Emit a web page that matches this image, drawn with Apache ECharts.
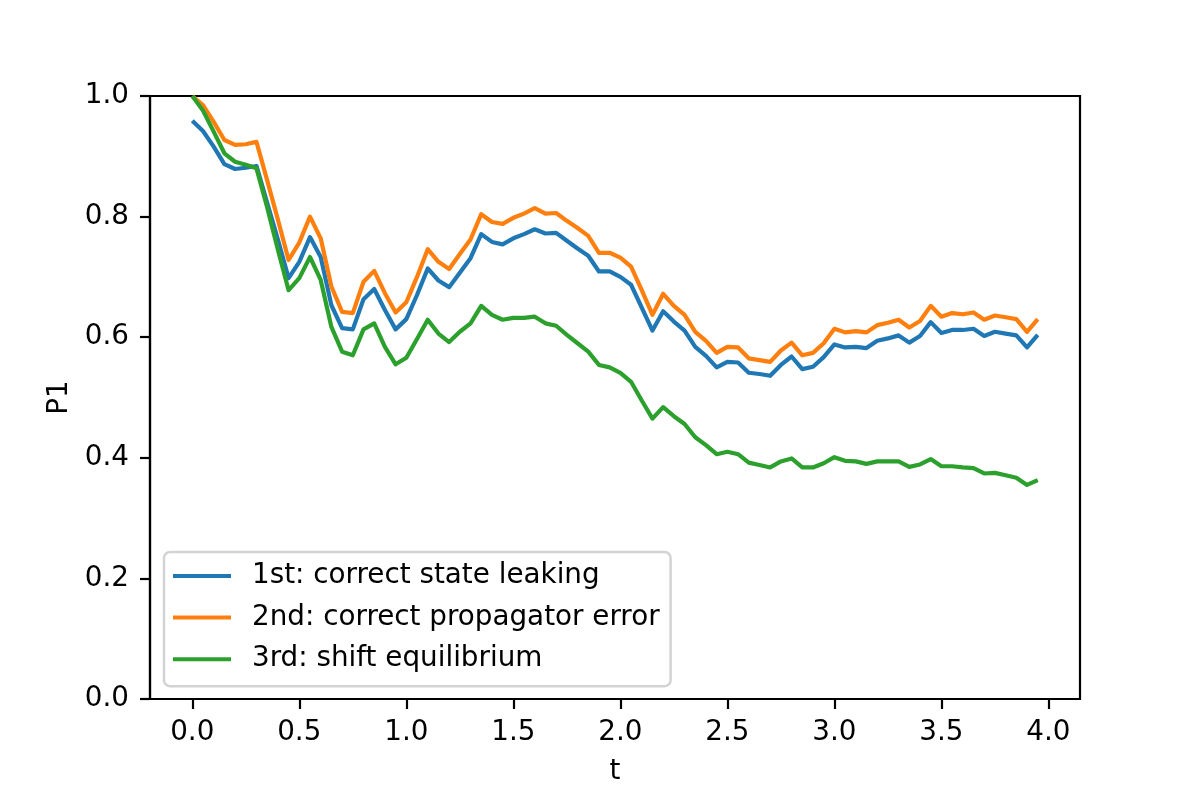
<!DOCTYPE html>
<html>
<head>
<meta charset="utf-8">
<script src="https://cdn.jsdelivr.net/npm/echarts@6/dist/echarts.min.js"></script>
<style>
html,body{margin:0;padding:0;background:#fff;}
#chart{width:1200px;height:800px;}
</style>
</head>
<body>
<div id="chart"></div>
<script>
const times = [0.00,0.05,0.10,0.15,0.20,0.25,0.30,0.35,0.40,0.45,
  0.50,0.55,0.60,0.65,0.70,0.75,0.80,0.85,0.90,0.95,
  1.00,1.05,1.10,1.15,1.20,1.25,1.30,1.35,1.40,1.45,
  1.50,1.55,1.60,1.65,1.70,1.75,1.80,1.85,1.90,1.95,
  2.00,2.05,2.10,2.15,2.20,2.25,2.30,2.35,2.40,2.45,
  2.50,2.55,2.60,2.65,2.70,2.75,2.80,2.85,2.90,2.95,
  3.00,3.05,3.10,3.15,3.20,3.25,3.30,3.35,3.40,3.45,
  3.50,3.55,3.60,3.65,3.70,3.75,3.80,3.85,3.90,3.95];

const leaking = [0.959,0.942,0.916,0.887,0.879,0.881,0.884,0.823,0.762,0.698,
  0.725,0.766,0.733,0.653,0.615,0.613,0.663,0.680,0.645,0.613,
  0.630,0.670,0.714,0.694,0.683,0.707,0.731,0.771,0.758,0.754,
  0.764,0.771,0.779,0.772,0.773,0.760,0.747,0.735,0.709,0.709,
  0.700,0.687,0.649,0.611,0.643,0.626,0.611,0.584,0.569,0.550,
  0.559,0.558,0.541,0.539,0.536,0.554,0.568,0.547,0.551,0.567,
  0.588,0.583,0.584,0.582,0.594,0.598,0.603,0.591,0.602,0.625,
  0.607,0.612,0.612,0.614,0.602,0.609,0.606,0.603,0.583,0.604];

const propagator = [1.000,0.985,0.957,0.927,0.919,0.920,0.924,0.860,0.795,0.728,
  0.757,0.800,0.764,0.684,0.642,0.640,0.692,0.710,0.673,0.641,
  0.658,0.700,0.746,0.725,0.713,0.738,0.762,0.804,0.791,0.788,
  0.798,0.805,0.814,0.805,0.806,0.793,0.781,0.768,0.740,0.740,
  0.732,0.717,0.678,0.637,0.672,0.652,0.637,0.609,0.594,0.574,
  0.584,0.583,0.565,0.562,0.559,0.578,0.591,0.570,0.574,0.590,
  0.614,0.608,0.610,0.608,0.620,0.624,0.629,0.616,0.627,0.652,
  0.634,0.640,0.638,0.641,0.629,0.636,0.633,0.630,0.609,0.630];

const equilibrium = [1.000,0.976,0.941,0.905,0.891,0.886,0.880,0.815,0.745,0.678,
  0.698,0.733,0.695,0.617,0.576,0.570,0.613,0.623,0.584,0.555,
  0.566,0.597,0.629,0.606,0.592,0.609,0.623,0.652,0.637,0.629,
  0.632,0.632,0.634,0.623,0.619,0.604,0.590,0.576,0.554,0.550,
  0.541,0.526,0.495,0.465,0.484,0.469,0.456,0.434,0.421,0.406,
  0.410,0.406,0.392,0.388,0.384,0.394,0.399,0.384,0.384,0.391,
  0.401,0.395,0.394,0.390,0.394,0.394,0.394,0.385,0.389,0.398,
  0.386,0.386,0.384,0.383,0.374,0.375,0.371,0.367,0.355,0.363];

const seriesNames = ['1st: correct state leaking','2nd: correct propagator error','3rd: shift equilibrium'];
const xTicks = [0.0,0.5,1.0,1.5,2.0,2.5,3.0,3.5,4.0];
const yTicks = [0.0,0.2,0.4,0.6,0.8,1.0];
const colors = ['#1f77b4','#ff7f0e','#2ca02c'];

const FONT = 'DejaVu Sans';
const FS = 27.8;

function pairs(ys){ return times.map((t,i)=>[t, ys[i]]); }

const chart = echarts.init(document.getElementById('chart'), null, {renderer:'canvas'});
const allSeries = [leaking, propagator, equilibrium];

chart.setOption({
  animation: false,
  backgroundColor: '#ffffff',
  textStyle: {fontFamily: FONT},
  grid: {left:150, top:96, width:930, height:603, show:true, borderColor:'#000', borderWidth:2.2, backgroundColor:'transparent'},
  xAxis: {
    type:'value', min:-0.1975, max:4.1475,
    name:'t', nameLocation:'middle', nameGap:59,
    nameTextStyle:{fontFamily:FONT, fontSize:FS, color:'#000'},
    axisLine:{show:true, onZero:false, lineStyle:{color:'#000', width:2.2}},
    splitLine:{show:false},
    axisTick:{show:true, inside:false, length:10, lineStyle:{color:'#000', width:2.2}, customValues:xTicks},
    axisLabel:{show:true, margin:20, fontFamily:FONT, fontSize:FS, color:'#000', customValues:xTicks,
      formatter:(v)=>v.toFixed(1)}
  },
  yAxis: {
    type:'value', min:0, max:1, interval:0.2,
    name:'P1', nameLocation:'middle', nameGap:76,
    nameTextStyle:{fontFamily:FONT, fontSize:FS, color:'#000'},
    axisLine:{show:true, onZero:false, lineStyle:{color:'#000', width:2.2}},
    splitLine:{show:false},
    axisTick:{show:true, inside:false, length:10, lineStyle:{color:'#000', width:2.2}},
    axisLabel:{show:true, margin:21, fontFamily:FONT, fontSize:FS, color:'#000',
      formatter:(v)=>v.toFixed(1)}
  },
  legend: {
    orient:'vertical', left:164, top:552,
    data: seriesNames,
    icon:'rect', itemWidth:58, itemHeight:4,
    itemGap:11.6,
    padding:[9,11,12,9],
    backgroundColor:'rgba(255,255,255,0.8)',
    borderColor:'#d3d3d3', borderWidth:2.5, borderRadius:6,
    textStyle:{fontFamily:FONT, fontSize:FS, color:'#000', lineHeight:30, padding:[0,0,0,16]},
    selectedMode:false
  },
  series: allSeries.map((ys,i)=>({
    name: seriesNames[i], type:'line', data: pairs(ys),
    showSymbol:false, symbol:'none',
    lineStyle:{color:colors[i], width:4.2, join:'round'},
    itemStyle:{color:colors[i]},
    z: 2+i
  }))
});
</script>
</body>
</html>
